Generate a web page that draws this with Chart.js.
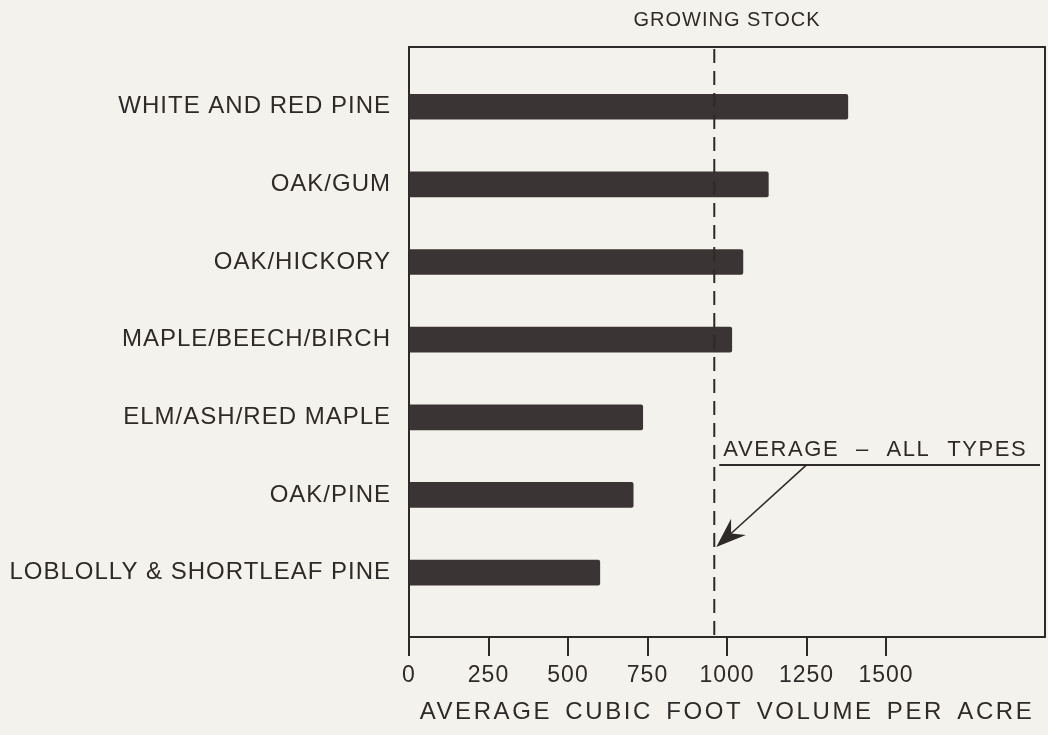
<!DOCTYPE html>
<html>
<head>
<meta charset="utf-8">
<script src="https://cdn.jsdelivr.net/npm/chart.js@4/dist/chart.umd.min.js"></script>
<style>
  html, body { margin: 0; padding: 0; background: #f4f2ec; }
  #wrap { width: 1048px; height: 735px; }
  canvas { display: block; }
</style>
</head>
<body>
<div id="wrap"><canvas id="c" width="1048" height="735"></canvas></div>
<script>
// ---- data ----
const categories = [
  'WHITE AND RED PINE',
  'OAK/GUM',
  'OAK/HICKORY',
  'MAPLE/BEECH/BIRCH',
  'ELM/ASH/RED MAPLE',
  'OAK/PINE',
  'LOBLOLLY & SHORTLEAF PINE'
];
const volumes = [1380, 1130, 1050, 1015, 735, 705, 600];
const averageAllTypes = 960;
const xTickValues = [0, 250, 500, 750, 1000, 1250, 1500];
const chartTitle = 'GROWING STOCK';
const xAxisTitle = 'AVERAGE CUBIC FOOT VOLUME PER ACRE';
const averageLabel = 'AVERAGE \u2013 ALL TYPES';

// ---- style ----
const INK = '#2e2a2a';
const BAR = '#3b3434';
const FAMILY = '"Liberation Sans", Arial, Helvetica, sans-serif';

const framePlugin = {
  id: 'frame',
  afterLayout(chart) {
    const xs = chart.scales.x;
    if (!xs._wideTitle) {
      const orig = xs.drawTitle;
      xs.drawTitle = function () {
        const ctx = this.ctx;
        ctx.save();
        ctx.letterSpacing = '2.6px';
        try { ctx.wordSpacing = '4px'; } catch (e) {}
        orig.apply(this, arguments);
        ctx.restore();
      };
      xs._wideTitle = true;
    }
  },
  beforeDraw(chart) {
    chart.ctx.letterSpacing = '1px';
  },
  afterDatasetsDraw(chart) {
    const { ctx, chartArea: a, scales } = chart;
    const xs = scales.x, ys = scales.y;
    ctx.save();
    ctx.strokeStyle = INK;
    ctx.lineWidth = 2;
    // right border
    ctx.beginPath();
    ctx.moveTo(a.right, a.top - 1);
    ctx.lineTo(a.right, a.bottom + 1);
    ctx.stroke();
    // average dashed line
    const ax = xs.getPixelForValue(averageAllTypes);
    ctx.setLineDash([14, 8]);
    ctx.beginPath();
    ctx.moveTo(ax, a.top + 2);
    ctx.lineTo(ax, a.bottom);
    ctx.stroke();
    ctx.setLineDash([]);
    // annotation text
    const baseY = ys.getPixelForValue(4.5);
    ctx.fillStyle = INK;
    ctx.font = '22px ' + FAMILY;
    ctx.letterSpacing = '1.6px';
    try { ctx.wordSpacing = '9px'; } catch (e) {}
    ctx.textAlign = 'left';
    ctx.textBaseline = 'alphabetic';
    ctx.fillText(averageLabel, ax + 9, baseY);
    try { ctx.wordSpacing = '0px'; } catch (e) {}
    // underline
    const uy = baseY + 9;
    ctx.lineWidth = 2;
    ctx.beginPath();
    ctx.moveTo(ax + 5, uy);
    ctx.lineTo(a.right - 5, uy);
    ctx.stroke();
    // arrow
    const sx = ax + 92, sy = uy;
    const tx = ax + 2, ty = ys.getPixelForValue(5.67);
    const ang = Math.atan2(ty - sy, tx - sx);
    const L = 30, W = 11, notch = 20;
    ctx.lineWidth = 1.6;
    ctx.beginPath();
    ctx.moveTo(sx, sy);
    ctx.lineTo(tx - notch * Math.cos(ang), ty - notch * Math.sin(ang));
    ctx.stroke();
    const bx = tx - L * Math.cos(ang), by = ty - L * Math.sin(ang);
    const nx = -Math.sin(ang), ny = Math.cos(ang);
    ctx.beginPath();
    ctx.moveTo(tx, ty);
    ctx.lineTo(bx + nx * W, by + ny * W);
    ctx.lineTo(tx - notch * Math.cos(ang), ty - notch * Math.sin(ang));
    ctx.lineTo(bx - nx * W, by - ny * W);
    ctx.closePath();
    ctx.fill();
    ctx.restore();
  }
};

new Chart(document.getElementById('c'), {
  type: 'bar',
  data: {
    datasets: [{
      data: categories.map((c, i) => ({ x: volumes[i], y: i })),
      backgroundColor: BAR,
      borderWidth: 0,
      borderRadius: 2,
      borderSkipped: 'start',
      barThickness: 25,
      xAxisID: 'x',
      yAxisID: 'y'
    }]
  },
  options: {
    indexAxis: 'y',
    responsive: false,
    devicePixelRatio: 1,
    animation: false,
    layout: { padding: { left: 0, right: 3, top: 0, bottom: 0 } },
    plugins: { legend: { display: false }, tooltip: { enabled: false }, title: { display: false } },
    scales: {
      x: {
        type: 'linear', position: 'bottom', min: 0, max: 2000,
        afterBuildTicks: s => { s.ticks = xTickValues.map(v => ({ value: v })); },
        afterFit: s => { s.height = 98; },
        ticks: { color: INK, font: { family: FAMILY, size: 23 }, padding: 6, maxRotation: 0, autoSkip: false, callback: v => String(v) },
        grid: { drawOnChartArea: false, drawTicks: true, tickLength: 19, color: INK, lineWidth: 2 },
        border: { color: INK, width: 2 },
        title: { display: true, text: xAxisTitle, color: INK, font: { family: FAMILY, size: 24 }, padding: { top: 0, bottom: 8 } }
      },
      x2: {
        type: 'linear', position: 'top', min: 0, max: 2000,
        afterFit: s => { s.height = 47; },
        ticks: { display: false },
        grid: { display: false, drawTicks: false },
        border: { color: INK, width: 2 },
        title: { display: true, text: chartTitle, color: INK, font: { family: FAMILY, size: 20 }, padding: { top: 8, bottom: 0 } }
      },
      y: {
        type: 'linear', position: 'left', reverse: true, offset: false, min: -0.77, max: 6.83,
        afterBuildTicks: s => { s.ticks = categories.map((c, i) => ({ value: i })); },
        afterFit: s => { s.width = 409; },
        ticks: { color: INK, font: { family: FAMILY, size: 24 }, padding: 18, autoSkip: false, callback: v => categories[v] !== undefined ? categories[v] : '' },
        grid: { display: false, drawTicks: false, offset: false },
        border: { color: INK, width: 2 }
      }
    }
  },
  plugins: [framePlugin]
});
</script>
</body>
</html>
